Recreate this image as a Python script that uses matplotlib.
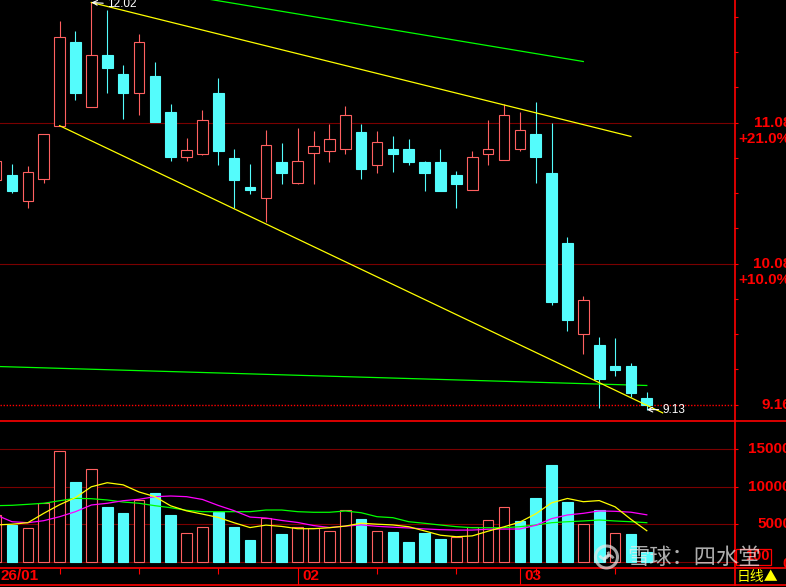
import numpy as np
import matplotlib
matplotlib.use('Agg')
import matplotlib.pyplot as plt
from matplotlib.patches import Rectangle, Circle, Arc
from matplotlib.lines import Line2D
from matplotlib.ticker import NullLocator
import matplotlib.transforms as mtransforms

plt.rcParams['font.family'] = ['Liberation Sans', 'Noto Sans CJK SC', 'DejaVu Sans']

# daily candles (index 0 is the half-cut one on the left edge)
opens = [10.66, 10.70, 10.51, 10.67, 11.06, 11.70, 11.20, 11.60, 11.45, 11.31,
         11.44, 11.16, 10.83, 10.85, 11.31, 10.82, 10.61, 10.53, 10.79, 10.64,
         10.86, 10.87, 10.89, 11.01, 10.77, 10.89, 10.89, 10.79, 10.79, 10.70,
         10.59, 10.85, 10.81, 10.89, 11.00, 10.71, 10.22, 9.61, 9.54, 9.40,
         9.40, 9.20]
highs = [10.83, 10.78, 10.76, 11.00, 11.87, 11.79, 12.02, 11.96, 11.52, 11.77,
         11.55, 11.22, 10.97, 11.18, 11.42, 10.89, 10.78, 11.03, 10.93, 11.04,
         11.02, 11.07, 11.21, 11.07, 11.02, 10.98, 10.96, 10.80, 10.89, 10.73,
         10.87, 11.10, 11.22, 11.16, 11.24, 11.08, 10.26, 9.86, 9.59, 9.58,
         9.42, 9.24]
lows = [10.64, 10.57, 10.46, 10.64, 11.06, 11.25, 11.20, 11.31, 11.11, 11.14,
        11.09, 10.80, 10.80, 10.84, 10.77, 10.46, 10.56, 10.36, 10.63, 10.63,
        10.63, 10.79, 10.85, 10.67, 10.71, 10.72, 10.77, 10.58, 10.58, 10.46,
        10.59, 10.77, 10.81, 10.87, 10.64, 9.80, 9.63, 9.48, 9.14, 9.34,
        9.21, 9.13]
closes = [10.80, 10.58, 10.72, 11.00, 11.74, 11.31, 11.60, 11.50, 11.31, 11.70,
          11.09, 10.83, 10.88, 11.10, 10.87, 10.66, 10.59, 10.92, 10.71, 10.80,
          10.91, 10.96, 11.14, 10.74, 10.94, 10.85, 10.79, 10.71, 10.58, 10.63,
          10.83, 10.89, 11.14, 11.03, 10.83, 9.82, 9.70, 9.83, 9.32, 9.38,
          9.23, 9.16]

# volume (hands / 100) and its three averages
volumes = [6200, 4900, 4450, 7780, 14760, 10620, 12320, 7290, 6490, 8220,
           9160, 6220, 3790, 4590, 6670, 4630, 2890, 5790, 3690, 4590,
           4450, 4090, 6890, 5690, 4090, 3960, 2620, 3820, 3020, 3240,
           4580, 5560, 7240, 5420, 8530, 12890, 8000, 4980, 6890, 3780,
           3690, 1300]
mavol5 = [4900, 5000, 5200, 6450, 7600, 8550, 9990, 10530, 10250, 9300,
          8680, 7450, 6780, 6350, 5900, 5190, 4550, 4880, 4700, 4400,
          4400, 4530, 4750, 5130, 5000, 4900, 4660, 4100, 3530, 3330,
          3440, 4070, 4650, 5280, 6380, 7850, 8430, 8000, 8150, 7320,
          5650, 4130]
mavol10 = [6230, 5330, 5200, 5470, 6000, 6670, 7560, 7790, 8130, 8320,
           8670, 8760, 8670, 8300, 7500, 6800, 5950, 5820, 5500, 5230,
           4820, 4560, 4740, 4910, 4720, 4600, 4500, 4370, 4270, 4210,
           4220, 4330, 4350, 4360, 4850, 5740, 6230, 6450, 6770, 6720,
           6600, 6250]
mavol20 = [7470, 7520, 7650, 7790, 8130, 8450, 8400, 8230, 7960, 7790,
           7470, 7200, 6850, 6670, 6670, 6670, 6670, 6890, 6890, 6670,
           6590, 6590, 6760, 6530, 6000, 5870, 5330, 5120, 4890, 4670,
           4530, 4530, 4530, 4670, 4890, 5200, 5330, 5430, 5560, 5430,
           5330, 5200]

# hand drawn lines: (candle index, price) end points
yellow_top = ([6, 40], [12.02, 10.98])
yellow_low = ([4, 42], [11.06, 9.11])
green_top = ([10, 37], [12.12, 11.55])
green_low = ([0, 41], [9.40, 9.28])

month_idx = [0, 19, 33]
month_lbl = ['26/01', '02', '03']
tick_idx = [4, 9, 14, 24, 29, 34, 39]
vol_ticks = [0, 5000, 10000, 15000]

RED = '#ff0000'
DARK = '#7a0000'
UPC = '#ff6060'
DNC = '#54fcfc'
YEL = '#ffff00'
MAG = '#ff00ff'
GRN = '#00ff00'

opens = np.array(opens); highs = np.array(highs)
lows = np.array(lows); closes = np.array(closes)
n = len(closes)
idx = np.arange(n)

W, H = 786, 587
fig = plt.figure(figsize=(W / 100, H / 100), dpi=100, facecolor='black')


def fx(x):
    return x / W


def fy(y):
    return 1 - y / H


# pixel position of candle i is -3.87 + 15.87 * i
x0, step = -3.87, 15.87
xlim = ((0 - x0) / step, (734 - x0) / step)

ax = fig.add_axes([0, fy(421), fx(734), 421 / H])
axv = fig.add_axes([0, fy(568), fx(734), (568 - 421) / H])
axd = fig.add_axes([0, fy(585), fx(734), (585 - 568) / H])
for a in (ax, axv, axd):
    a.set_facecolor('black')
    for s in a.spines.values():
        s.set_visible(False)
    a.set_xticks([])

# ---- price panel ----
ax.set_yscale('log')
base = closes[-1]
levels = base * 1.1 ** (np.arange(0, 12) / 4)
ax.yaxis.set_minor_locator(NullLocator())
ax.yaxis.tick_right()
ax.set_yticks(levels)
ax.tick_params(axis='y', which='major', length=3, width=0.8, color=RED,
               labelright=False, labelleft=False, direction='out')
for n_ in (1, 2):
    ax.axhline(base * 1.1 ** n_, color=DARK, lw=0.8, zorder=0)
ax.axhline(base, color=RED, lw=1.0, ls=(0, (1, 1.2)), zorder=0)

bw = 0.67
for i in idx:
    o, h, l, c = opens[i], highs[i], lows[i], closes[i]
    top, bot = max(o, c), min(o, c)
    if c > o:
        ax.vlines(i, top, h, color=UPC, lw=0.8)
        ax.vlines(i, l, bot, color=UPC, lw=0.8)
        ax.add_patch(Rectangle((i - bw / 2, bot), bw, top - bot,
                               facecolor='black', edgecolor=UPC, lw=0.8, zorder=3))
    else:
        ax.vlines(i, l, h, color=DNC, lw=0.8)
        ax.add_patch(Rectangle((i - bw / 2, bot), bw, max(top - bot, 0.004),
                               facecolor=DNC, edgecolor=DNC, lw=0.8, zorder=3))

ax.plot(*yellow_top, color=YEL, lw=0.9, zorder=4)
ax.plot(*yellow_low, color=YEL, lw=0.9, zorder=4)
ax.plot(*green_top, color=GRN, lw=0.9, zorder=4)
ax.plot(*green_low, color=GRN, lw=0.9, zorder=2)

hi_i = int(np.argmax(highs))
lo_i = int(np.argmin(lows))
for i_, val in ((hi_i, highs[hi_i]), (lo_i, lows[lo_i])):
    ax.annotate(f'{val:.2f}', xy=(i_, val), xytext=(16, -2 if i_ == hi_i else 0),
                textcoords='offset pixels', color='white', fontsize=8.5,
                va='center', ha='left', zorder=6,
                arrowprops=dict(arrowstyle='->', color='white', lw=0.8,
                                shrinkA=1, shrinkB=0))

ax.set_xlim(*xlim)
ax.set_ylim(9.06, 12.04)

tr = mtransforms.blended_transform_factory(fig.transFigure, ax.transData)
tr_pct = mtransforms.offset_copy(tr, fig=fig, y=-16, units='dots')
ax.text(791 / W, base, f'{base:.2f}', transform=tr, color=RED, fontsize=11,
        fontweight='bold', ha='right', va='center', clip_on=False)
for n_ in (1, 2):
    p = base * 1.1 ** n_
    ax.text(791 / W, p, f'{p:.2f}', transform=tr, color=RED, fontsize=11,
            fontweight='bold', ha='right', va='center', clip_on=False)
    ax.text(791 / W, p, f'+{(1.1 ** n_ - 1) * 100:.1f}%', transform=tr_pct,
            color=RED, fontsize=11, fontweight='bold', ha='right', va='center',
            clip_on=False)

# ---- volume panel ----
vol_up = np.r_[closes[0] > opens[0], closes[1:] >= closes[:-1]]
for v in vol_ticks:
    axv.axhline(v, color=DARK, lw=0.8, zorder=0)
axv.bar(idx, volumes, width=bw, facecolor=np.where(vol_up, 'black', DNC),
        edgecolor=np.where(vol_up, UPC, DNC), lw=0.8, zorder=2)
axv.plot(idx, mavol20, color=GRN, lw=0.9, zorder=3)
axv.plot(idx, mavol10, color=MAG, lw=0.9, zorder=3)
axv.plot(idx, mavol5, color=YEL, lw=0.9, zorder=3)
axv.set_xlim(*xlim)
axv.set_ylim(-840, 18760)
axv.yaxis.tick_right()
axv.set_yticks(vol_ticks)
axv.tick_params(axis='y', length=3, width=0.8, color=RED,
                labelright=False, labelleft=False, direction='out')
trv = mtransforms.blended_transform_factory(fig.transFigure, axv.transData)
for v in vol_ticks:
    axv.text(791 / W, v + (-250 if v == 0 else 0), f'{v}', transform=trv,
             color=RED, fontsize=11, fontweight='bold', ha='right',
             va='center', clip_on=False)

# ---- date strip ----
axd.set_xlim(*xlim)
axd.set_ylim(0, 1)
axd.set_yticks([])
axd.set_xticks(tick_idx)
axd.tick_params(axis='x', top=True, bottom=False, direction='in', length=4,
                width=0.8, color=RED, labeltop=False, labelbottom=False)
for m, lbl in zip(month_idx, month_lbl):
    axd.axvline(m, color=RED, lw=0.8)
    axd.text(m + 0.27, 0.5, lbl, color=RED, fontsize=11, fontweight='bold',
             ha='left', va='center')

# frame lines
for y in (421, 568, 585):
    fig.add_artist(Line2D([0, 1], [fy(y), fy(y)], color=RED, lw=1.2,
                          transform=fig.transFigure))
fig.add_artist(Line2D([fx(734.5), fx(734.5)], [fy(585), 1], color=RED, lw=1.2,
                      transform=fig.transFigure))

# unit box and period label
fig.add_artist(Rectangle((736 / 100, (H - 565) / 100), 0.35, 0.165,
                         transform=fig.dpi_scale_trans, fill=False,
                         edgecolor=RED, lw=0.9))
fig.text(fx(770), fy(556), '100', color=RED, fontsize=10.5, fontweight='bold',
         ha='right', va='center')
fig.text(fx(737), fy(577), '日线▲', color=YEL, fontsize=10,
         family=['Noto Sans CJK SC', 'DejaVu Sans'], ha='left', va='center')

# watermark
wm = '#e8e8e8'
fig.add_artist(Circle((6.065, (H - 557) / 100), 0.11, transform=fig.dpi_scale_trans,
                      fill=False, edgecolor=wm, lw=2.2, alpha=0.7, zorder=10))
fig.add_artist(Arc((6.04, (H - 554) / 100), 0.09, 0.09, theta1=200, theta2=30,
                   transform=fig.dpi_scale_trans, edgecolor=wm, lw=2.0,
                   alpha=0.7, zorder=10))
fig.add_artist(Arc((6.09, (H - 560) / 100), 0.09, 0.09, theta1=20, theta2=210,
                   transform=fig.dpi_scale_trans, edgecolor=wm, lw=2.0,
                   alpha=0.7, zorder=10))
fig.text(fx(627), fy(557), '雪球：四水堂', color=wm, alpha=0.75, fontsize=16,
         family=['Noto Sans CJK SC'], ha='left', va='center', zorder=10)

fig.savefig('out.png', dpi=100, facecolor='black')
